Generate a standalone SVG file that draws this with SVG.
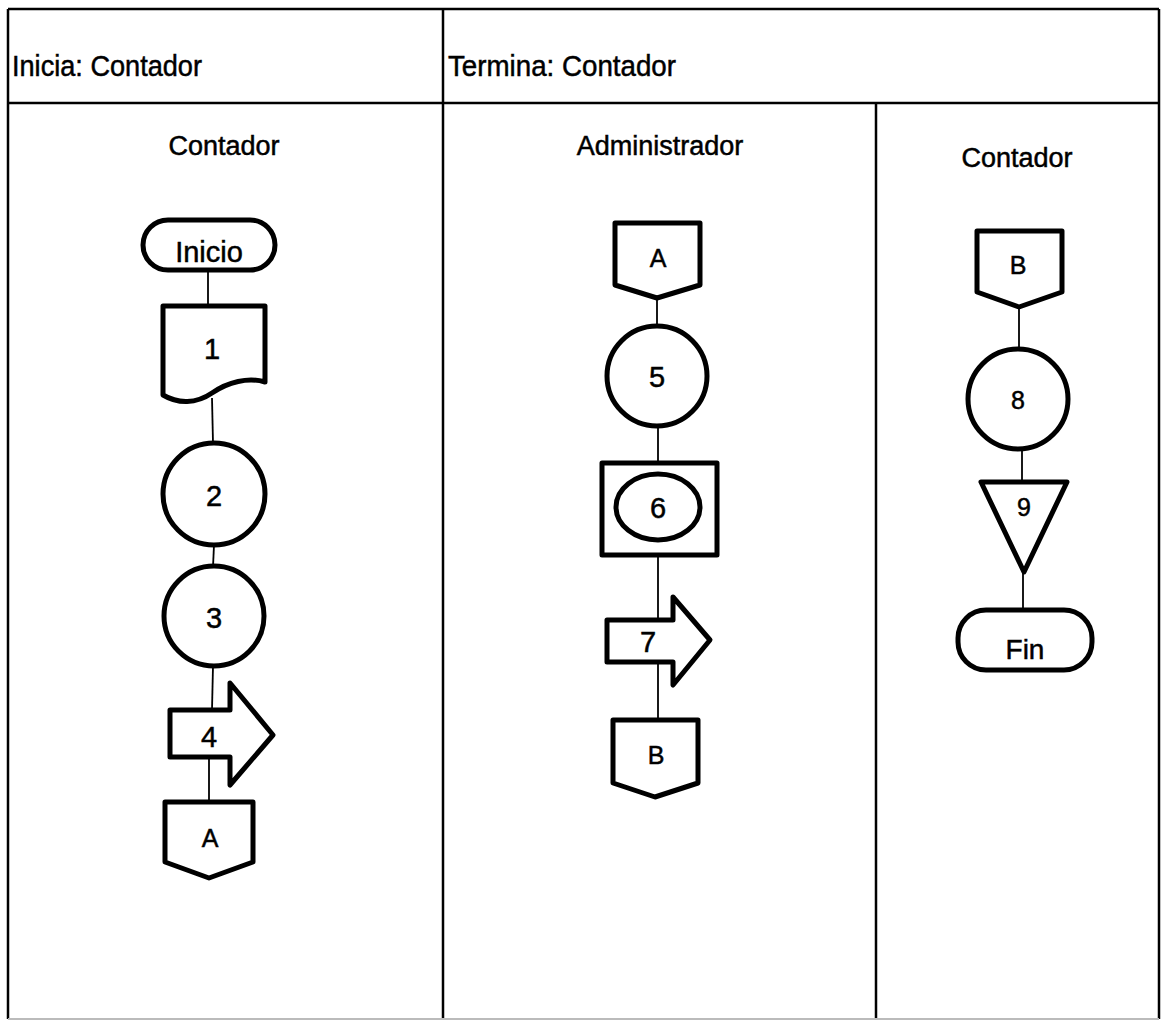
<svg xmlns="http://www.w3.org/2000/svg" width="1162" height="1026" viewBox="0 0 1162 1026">
<style>
text{font-family:"Liberation Sans",Arial,sans-serif;fill:#000;stroke:#000;stroke-width:0.5}
.frame{stroke:#000;stroke-width:2.5;fill:none}
.shape{stroke:#000;stroke-width:5;fill:#fff;stroke-linejoin:round}
.conn{stroke:#000;stroke-width:1.8;fill:none}
.hdr{font-size:30px}
.lane{font-size:27px;text-anchor:middle}
.lbl{font-size:29px;text-anchor:middle}
.sm{font-size:25px;text-anchor:middle}
</style>
<rect width="1162" height="1026" fill="#fff"/>
<g id="frame">
<line class="frame" x1="8" y1="9" x2="1159" y2="9"/>
<line class="frame" x1="8" y1="103" x2="1159" y2="103" stroke-width="3.5"/>
<line class="frame" x1="8" y1="9" x2="8" y2="1019"/>
<line class="frame" x1="443" y1="9" x2="443" y2="1019"/>
<line class="frame" x1="1159" y1="9" x2="1159" y2="1019"/>
<line class="frame" x1="876" y1="103" x2="876" y2="1019"/>
<line x1="8" y1="1019" x2="1159" y2="1019" stroke="#bbb" stroke-width="2"/>
<text class="hdr" x="12" y="76" textLength="190" lengthAdjust="spacingAndGlyphs">Inicia: Contador</text>
<text class="hdr" x="448" y="76" textLength="228" lengthAdjust="spacingAndGlyphs">Termina: Contador</text>
<text class="lane" x="224" y="155">Contador</text>
<text class="lane" x="660" y="155">Administrador</text>
<text class="lane" x="1017" y="167">Contador</text>
</g>
<g id="connectors">
<line class="conn" x1="208" y1="270" x2="208" y2="306"/>
<line class="conn" x1="212" y1="398" x2="213" y2="443"/>
<line class="conn" x1="214" y1="545" x2="213" y2="567"/>
<line class="conn" x1="213" y1="666" x2="212" y2="710"/>
<line class="conn" x1="209" y1="757" x2="209" y2="802"/>
<line class="conn" x1="657" y1="298" x2="657" y2="326"/>
<line class="conn" x1="658" y1="426" x2="658" y2="463"/>
<line class="conn" x1="658" y1="555" x2="658" y2="620"/>
<line class="conn" x1="658" y1="662" x2="658" y2="720"/>
<line class="conn" x1="1019" y1="307" x2="1019" y2="350"/>
<line class="conn" x1="1022" y1="448" x2="1022" y2="482"/>
<line class="conn" x1="1023" y1="572" x2="1023" y2="610"/>
</g>
<g id="n-inicio">
<rect class="shape" x="143" y="220" width="132" height="50" rx="25"/>
<text x="209" y="262" font-size="29" text-anchor="middle">Inicio</text>
</g>
<g id="n1">
<path class="shape" d="M163,306 H265 V382 C248,377 228,382 212,393 C196,404 178,404 163,395 Z"/>
<text class="lbl" x="212" y="359">1</text>
</g>
<g id="n2">
<circle class="shape" cx="214" cy="494" r="51"/>
<text class="lbl" x="214" y="506">2</text>
</g>
<g id="n3">
<circle class="shape" cx="214" cy="616" r="50"/>
<text class="lbl" x="214" y="628">3</text>
</g>
<g id="n4">
<polygon class="shape" points="170,710 230,710 230,683 273,735 230,785 230,757 170,757"/>
<text class="lbl" x="209" y="747">4</text>
</g>
<g id="nA1">
<polygon class="shape" points="165,802 253,802 253,862 209,878 165,862"/>
<text class="sm" x="210" y="847">A</text>
</g>
<g id="nA2">
<polygon class="shape" points="615,223 700,223 700,285 657,298 615,285"/>
<text class="sm" x="658" y="267">A</text>
</g>
<g id="n5">
<circle class="shape" cx="657" cy="376" r="50"/>
<text class="lbl" x="657" y="387">5</text>
</g>
<g id="n6">
<rect class="shape" x="602" y="463" width="115" height="92"/>
<ellipse class="shape" cx="658" cy="507" rx="42" ry="33"/>
<text class="lbl" x="658" y="518">6</text>
</g>
<g id="n7">
<polygon class="shape" points="607,620 673,620 673,597 710,640 673,685 673,662 607,662"/>
<text class="lbl" x="648" y="652">7</text>
</g>
<g id="nB1">
<polygon class="shape" points="613,720 698,720 698,783 655,797 613,783"/>
<text class="sm" x="656" y="764">B</text>
</g>
<g id="nB2">
<polygon class="shape" points="977,231 1062,231 1062,292 1019,307 977,292"/>
<text class="sm" x="1018" y="274">B</text>
</g>
<g id="n8">
<circle class="shape" cx="1018" cy="399" r="50"/>
<text class="sm" x="1018" y="409">8</text>
</g>
<g id="n9">
<polygon class="shape" points="981,482 1067,482 1024,572"/>
<text class="sm" x="1024" y="516">9</text>
</g>
<g id="n-fin">
<rect class="shape" x="958" y="610" width="134" height="60" rx="28"/>
<text x="1025" y="659" font-size="28" text-anchor="middle">Fin</text>
</g>
</svg>
